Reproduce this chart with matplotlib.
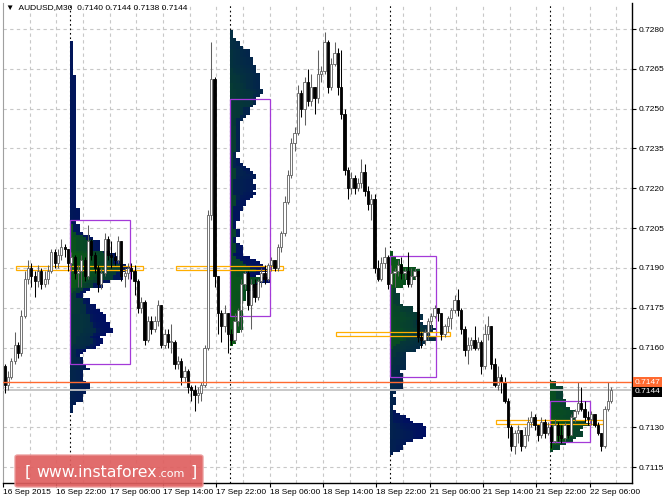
import numpy as np
import matplotlib
matplotlib.use('Agg')
import matplotlib.pyplot as plt
from matplotlib.patches import Rectangle, FancyBboxPatch
import matplotlib.transforms as mtransforms

plt.rcParams['font.family'] = ['Liberation Sans', 'DejaVu Sans']

# ---------------- data (prices in pips: price = value / 10000) ----------------
first_open = 7153
closes = [7146, 7149, 7155, 7161, 7158, 7172, 7186, 7190, 7187, 7185,
          7189, 7184, 7186, 7189, 7196, 7192, 7195, 7198, 7197, 7192,
          7194, 7188, 7189, 7193, 7187, 7200, 7195, 7190, 7184, 7188,
          7201, 7195, 7194, 7193, 7200, 7187, 7188, 7190, 7189, 7185,
          7175, 7177, 7163, 7170, 7167, 7170, 7176, 7161, 7165, 7162,
          7162, 7154, 7155, 7149, 7151, 7145, 7144, 7142, 7143, 7146,
          7160, 7210, 7261, 7187, 7173, 7168, 7173, 7165, 7163, 7170,
          7174, 7184, 7188, 7176, 7184, 7179, 7185, 7188, 7186, 7191,
          7193, 7190, 7198, 7203, 7215, 7225, 7237, 7241, 7256, 7250,
          7260, 7253, 7258, 7254, 7263, 7264, 7275, 7258, 7267, 7271,
          7258, 7248, 7227, 7220, 7224, 7220, 7222, 7226, 7219, 7214,
          7216, 7190, 7186, 7192, 7194, 7184, 7188, 7189, 7191, 7188,
          7189, 7184, 7187, 7189, 7164, 7163, 7166, 7170, 7172, 7175,
          7173, 7165, 7168, 7171, 7174, 7178, 7174, 7167, 7159, 7161,
          7163, 7160, 7162, 7153, 7165, 7168, 7154, 7146, 7149, 7147,
          7140, 7130, 7123, 7128, 7129, 7123, 7127, 7132, 7134, 7131,
          7127, 7132, 7128, 7130, 7125, 7131, 7127, 7126, 7131, 7127,
          7134, 7136, 7139, 7137, 7134, 7133, 7135, 7131, 7128, 7123,
          7137, 7140, 7144]
highs = [7154, 7151, 7156, 7166, 7162, 7174, 7189, 7193, 7192, 7189,
         7191, 7190, 7189, 7191, 7197, 7197, 7197, 7201, 7199, 7197,
         7196, 7195, 7191, 7195, 7194, 7206, 7201, 7196, 7191, 7190,
         7203, 7202, 7200, 7196, 7202, 7200, 7190, 7192, 7192, 7191,
         7186, 7179, 7178, 7172, 7172, 7172, 7178, 7176, 7167, 7167,
         7169, 7163, 7157, 7156, 7153, 7152, 7146, 7146, 7145, 7147,
         7161, 7212, 7275, 7262, 7187, 7174, 7176, 7173, 7167, 7173,
         7175, 7186, 7189, 7189, 7186, 7186, 7186, 7190, 7191, 7192,
         7194, 7193, 7199, 7204, 7217, 7227, 7239, 7243, 7259, 7257,
         7262, 7265, 7263, 7256, 7272, 7266, 7279, 7276, 7269, 7275,
         7273, 7272, 7250, 7228, 7226, 7225, 7224, 7231, 7229, 7221,
         7218, 7218, 7193, 7194, 7198, 7195, 7191, 7190, 7193, 7194,
         7190, 7196, 7190, 7190, 7189, 7166, 7167, 7171, 7173, 7176,
         7175, 7173, 7169, 7172, 7175, 7180, 7182, 7175, 7168, 7164,
         7164, 7168, 7164, 7163, 7169, 7172, 7168, 7156, 7153, 7150,
         7149, 7141, 7131, 7129, 7131, 7128, 7130, 7134, 7136, 7135,
         7131, 7134, 7133, 7132, 7131, 7133, 7132, 7131, 7132, 7131,
         7135, 7137, 7147, 7145, 7140, 7136, 7136, 7135, 7132, 7128,
         7138, 7147, 7145]
lows = [7143, 7144, 7148, 7154, 7156, 7157, 7171, 7184, 7183, 7179,
        7183, 7182, 7183, 7184, 7188, 7190, 7190, 7193, 7194, 7189,
        7189, 7186, 7183, 7183, 7185, 7186, 7193, 7188, 7181, 7182,
        7187, 7193, 7190, 7191, 7192, 7185, 7183, 7186, 7186, 7180,
        7173, 7173, 7161, 7162, 7165, 7166, 7168, 7160, 7160, 7160,
        7158, 7152, 7152, 7146, 7147, 7143, 7140, 7136, 7139, 7140,
        7145, 7159, 7208, 7183, 7165, 7162, 7166, 7158, 7161, 7162,
        7168, 7166, 7182, 7174, 7167, 7177, 7178, 7183, 7184, 7185,
        7189, 7189, 7189, 7196, 7202, 7214, 7224, 7234, 7240, 7247,
        7244, 7251, 7251, 7248, 7252, 7260, 7263, 7256, 7257, 7266,
        7255, 7246, 7225, 7216, 7218, 7218, 7219, 7220, 7217, 7212,
        7208, 7188, 7185, 7185, 7190, 7182, 7184, 7183, 7187, 7186,
        7186, 7183, 7183, 7186, 7162, 7160, 7161, 7163, 7167, 7171,
        7170, 7163, 7164, 7166, 7167, 7173, 7172, 7165, 7157, 7154,
        7159, 7159, 7159, 7150, 7152, 7163, 7152, 7145, 7144, 7143,
        7139, 7126, 7121, 7120, 7124, 7121, 7122, 7125, 7130, 7129,
        7125, 7126, 7126, 7127, 7122, 7124, 7125, 7124, 7125, 7126,
        7127, 7132, 7135, 7136, 7132, 7131, 7131, 7130, 7127, 7121,
        7122, 7136, 7139]

tick_bars = [0, 16, 32, 48, 64, 80, 96, 112, 128, 144, 160, 176]
tick_labels = ['16 Sep 2015', '16 Sep 22:00', '17 Sep 06:00', '17 Sep 14:00',
               '17 Sep 22:00', '18 Sep 06:00', '18 Sep 14:00', '18 Sep 22:00',
               '21 Sep 06:00', '21 Sep 14:00', '21 Sep 22:00', '22 Sep 06:00']
price_ticks = [7115, 7130, 7145, 7160, 7175, 7190, 7205, 7220, 7235, 7250, 7265, 7280]

day_starts = [20, 68, 116, 164]
day_len = 48
poc = [7190, 7190, 7165, 7132]
va_high = [7208, 7253.5, 7194.5, 7140]
va_low = [7154, 7172, 7149, 7124.5]
day_high_line = 7147
bid_price = 7144
title = '\u25bc  AUDUSD,M30  0.7140 0.7144 0.7138 0.7144'

P = 1e-4
n = len(closes)
opens = [first_open] + closes[:-1]

# ---------------- figure ----------------
W, H = 664, 498
fig = plt.figure(figsize=(W / 100, H / 100), dpi=100)
fig.patch.set_facecolor('white')
ax_l, ax_r, ax_t, ax_b = 3, 632, 3, 483
ax = fig.add_axes([ax_l / W, (H - ax_b) / H, (ax_r - ax_l) / W, (ax_b - ax_t) / H])
ax.set_facecolor('white')
ax.set_xlim(-0.45, 188.25)
ax.set_ylim(7109.0 * P, 7289.8 * P)

# grid
grid_col = '#c8c8c8'
for p in price_ticks:
    ax.axhline(p * P, color=grid_col, lw=0.8, ls=(0, (3, 3)), zorder=0)
for b in range(8, 189, 8):
    ax.axvline(b - 0.5, color=grid_col, lw=0.8, ls=(0, (3, 3)), zorder=0)

# period separators
for s in day_starts:
    ax.axvline(s - 0.5, color='black', lw=0.8, ls=(0, (1.5, 2.5)), zorder=0.5)

# ---------------- market profiles (TPO, coloured by time of day) ----------------
green = np.array([10, 92, 18]) / 255.0
navy = np.array([0, 14, 98]) / 255.0
for d, s in enumerate(day_starts):
    e = min(s + day_len, n)
    counts = {}
    xs, ys, cols = [], [], []
    for i in range(s, e):
        t = (i - s) / (day_len - 1)
        col = green * (1 - t) + navy * t
        for k in range(lows[i], highs[i] + 1):
            c = counts.get(k, 0)
            xs.append(s - 0.5 + c)
            ys.append(k * P)
            cols.append(col)
            counts[k] = c + 1
    ax.barh(ys, 1.0, left=xs, height=P, color=cols, linewidth=0,
            antialiased=False, zorder=2)
    maxc = max(counts.values())
    ax.add_patch(Rectangle((s - 0.5, va_low[d] * P), maxc,
                           (va_high[d] - va_low[d]) * P, fill=False,
                           edgecolor='#a43ad8', lw=0.9, zorder=4))
    ax.add_patch(Rectangle((s - 0.5 - 16, (poc[d] - 0.7) * P), 16 + maxc + 4,
                           1.4 * P, fill=False, edgecolor='#ffae00', lw=0.9,
                           zorder=4))

# ---------------- candles ----------------
bull_col = '#606060'
for i in range(n):
    o, c, h, l = opens[i], closes[i], highs[i], lows[i]
    h = max(h, o, c)
    l = min(l, o, c)
    bull = c >= o
    wc = bull_col if bull else 'black'
    ax.plot([i, i], [l * P, h * P], color=wc, lw=0.75, zorder=5,
            solid_capstyle='butt')
    bot = min(o, c)
    ht = max(abs(c - o), 0.3)
    ax.add_patch(Rectangle((i - 0.34, bot * P), 0.68, ht * P,
                           facecolor='white' if bull else 'black',
                           edgecolor=wc, lw=0.6, zorder=6))

# price lines
ax.axhline(bid_price * P, color='#c4c4c4', lw=1.3, zorder=3)
ax.axhline(day_high_line * P, color='#ff6a30', lw=1.0, zorder=7)

# ---------------- axes styling ----------------
ax.spines['top'].set_visible(False)
ax.spines['left'].set_color('#a0a0a0')
ax.spines['right'].set_color('black')
ax.spines['bottom'].set_color('black')
ax.spines['right'].set_linewidth(1.0)
ax.spines['bottom'].set_linewidth(1.0)

ax.yaxis.tick_right()
ax.set_yticks([p * P for p in price_ticks])
ax.set_yticklabels(['' if p == 7145 else '%.4f' % (p * P) for p in price_ticks])
ax.tick_params(axis='y', which='both', labelsize=6, length=3, width=0.8,
               pad=1.5, colors='black', left=False)

ax.set_xticks([b - 0.5 for b in tick_bars])
ax.set_xticklabels(tick_labels)
ax.tick_params(axis='x', labelsize=6, length=3, width=0.8, pad=1.5, colors='black')
for lab in ax.get_xticklabels():
    lab.set_ha('left')

# right-side price tags
trans = mtransforms.blended_transform_factory(ax.transAxes, ax.transData)
ax.text(1.0 + 2.5 / 629, day_high_line * P, '%.4f' % (day_high_line * P),
        transform=trans, ha='left', va='center', fontsize=6, color='white',
        bbox=dict(boxstyle='square,pad=0.18', fc='#ff6a30', ec='none'), zorder=10,
        clip_on=False)
ax.text(1.0 + 2.5 / 629, bid_price * P - 0.6 * P, '%.4f' % (bid_price * P),
        transform=trans, ha='left', va='center', fontsize=6, color='white',
        bbox=dict(boxstyle='square,pad=0.18', fc='black', ec='none'), zorder=11,
        clip_on=False)

# title
ax.text(3 / 629, 1 - 5 / 480, title, transform=ax.transAxes, ha='left',
        va='center', fontsize=6, color='black', zorder=12)

# watermark
wm = FancyBboxPatch((15 / W, 11 / H), 188 / W, 32 / H,
                    boxstyle='round,pad=0,rounding_size=0.004',
                    transform=fig.transFigure, facecolor='#df5f5f',
                    edgecolor='#eb9a9a', lw=1.0, alpha=0.92, zorder=20)
fig.patches.append(wm)
base = 21 / H
fig.text(25 / W, base, '[', fontsize=11.5, color='white', family='DejaVu Sans',
         ha='left', va='baseline', zorder=21)
t_main = fig.text(36 / W, base, 'www.instaforex', fontsize=11.3, color='white',
                  family='DejaVu Sans', ha='left', va='baseline', zorder=21)
fig.canvas.draw()
x_end = t_main.get_window_extent().x1
t_com = fig.text((x_end + 1.5) / W, base, '.com', fontsize=8, color='white',
                 family='DejaVu Sans', ha='left', va='baseline', zorder=21)
fig.canvas.draw()
x_end2 = t_com.get_window_extent().x1
fig.text((x_end2 + 5) / W, base, ']', fontsize=11.5, color='white',
         family='DejaVu Sans', ha='left', va='baseline', zorder=21)

fig.savefig('out.png', dpi=100, facecolor='white')
